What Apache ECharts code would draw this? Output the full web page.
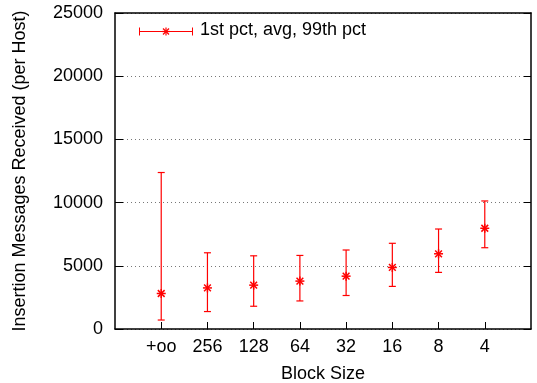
<!DOCTYPE html>
<html><head><meta charset="utf-8">
<script src="https://cdn.jsdelivr.net/npm/echarts@6/dist/echarts.min.js"></script>
<style>html,body{margin:0;padding:0;background:#fff}#c{width:537px;height:383px}</style>
</head><body><div id="c"></div>
<script>
const categories = ['+oo','256','128','64','32','16','8','4'];
const pctLow  = [710,1380,1800,2220,2650,3370,4480,6430];
const pctAvg  = [2810,3250,3470,3790,4180,4870,5950,7970];
const pctHigh = [12380,6030,5790,5820,6250,6780,7910,10130];
const yTicks = [0,5000,10000,15000,20000,25000];
const legendLabel = '1st pct, avg, 99th pct';

const FONT = 'Liberation Sans';
const FS = 18;
const RED = '#ff0000';
const chart = echarts.init(document.getElementById('c'), null, {renderer:'canvas'});
const data = categories.map((c,i)=>[i+1, pctLow[i], pctAvg[i], pctHigh[i]]);
const catPos = categories.map((c,i)=>i+1);

function star(cx, cy, r, w){
  const d = r*0.75;
  const s = {stroke:RED,lineWidth:w};
  return [
    {type:'line', shape:{x1:cx-r,y1:cy,x2:cx+r,y2:cy}, style:s},
    {type:'line', shape:{x1:cx,y1:cy-r,x2:cx,y2:cy+r}, style:s},
    {type:'line', shape:{x1:cx-d,y1:cy-d,x2:cx+d,y2:cy+d}, style:s},
    {type:'line', shape:{x1:cx-d,y1:cy+d,x2:cx+d,y2:cy-d}, style:s}
  ];
}

chart.setOption({
  animation:false,
  textStyle:{fontFamily:FONT},
  grid:{left:115,right:6,top:13,bottom:54,containLabel:false,outerBoundsMode:'none'},
  xAxis:[{
    type:'value', min:0, max:9, interval:1,
    name:'Block Size', nameLocation:'middle', nameGap:36,
    nameTextStyle:{fontFamily:FONT,fontSize:FS,color:'#000'},
    axisLine:{show:true,onZero:false,lineStyle:{color:'#000',width:1.5}},
    axisTick:{show:true,inside:true,length:7,lineStyle:{color:'#000',width:1},customValues:catPos},
    axisLabel:{show:true,color:'#000',fontSize:FS,fontFamily:FONT,margin:9,customValues:catPos,
      formatter:v=>categories[Math.round(v)-1]||''},
    splitLine:{show:false}
  },{
    type:'value', position:'top', min:0, max:9,
    axisLine:{show:true,onZero:false,lineStyle:{color:'#000',width:1.5}},
    axisTick:{show:false}, axisLabel:{show:false}, splitLine:{show:false}
  }],
  yAxis:[{
    type:'value', min:0, max:25000, interval:5000,
    name:'Insertion Messages Received (per Host)', nameLocation:'middle', nameGap:86,
    nameTextStyle:{fontFamily:FONT,fontSize:FS,color:'#000'},
    axisLine:{show:true,onZero:false,lineStyle:{color:'#000',width:1.5}},
    axisTick:{show:true,inside:true,length:8,lineStyle:{color:'#000',width:1}},
    axisLabel:{show:true,color:'#000',fontSize:FS,fontFamily:FONT,margin:12,
      formatter:v=>yTicks.includes(v)?String(v):''},
    splitLine:{show:true,lineStyle:{color:'#777',type:[1,3],width:1}}
  },{
    type:'value', position:'right', min:0, max:25000, interval:5000,
    axisLine:{show:true,onZero:false,lineStyle:{color:'#000',width:1.5}},
    axisTick:{show:true,inside:true,length:7,lineStyle:{color:'#000',width:1}},
    axisLabel:{show:false}, splitLine:{show:false}
  }],
  graphic:[
    {type:'group', left:137, top:25, children:[
      {type:'line', shape:{x1:0,y1:5,x2:53,y2:5}, style:{stroke:RED,lineWidth:1}},
      {type:'line', shape:{x1:0,y1:1,x2:0,y2:9}, style:{stroke:RED,lineWidth:1}},
      {type:'line', shape:{x1:53,y1:1,x2:53,y2:9}, style:{stroke:RED,lineWidth:1}},
      ...star(26.5,5,4,1.2)
    ]},
    {type:'text', left:200, top:21, style:{text:legendLabel, font:FS+'px "Liberation Sans"', fill:'#000'}}
  ],
  series:[{
    type:'custom', name:legendLabel, data:data,
    encode:{x:0,y:[1,2,3]},
    renderItem:function(params, api){
      const x = api.value(0);
      const lo = api.coord([x, api.value(1)]);
      const av = api.coord([x, api.value(2)]);
      const hi = api.coord([x, api.value(3)]);
      const cx = lo[0], cap = 3.5;
      return {type:'group', children:[
        {type:'line', shape:{x1:cx,y1:lo[1],x2:cx,y2:hi[1]}, style:{stroke:RED,lineWidth:1.2}},
        {type:'line', shape:{x1:cx-cap,y1:lo[1],x2:cx+cap,y2:lo[1]}, style:{stroke:RED,lineWidth:1.2}},
        {type:'line', shape:{x1:cx-cap,y1:hi[1],x2:cx+cap,y2:hi[1]}, style:{stroke:RED,lineWidth:1.2}},
        ...star(cx, av[1], 4.5, 1.5)
      ]};
    }
  }]
});
</script></body></html>
